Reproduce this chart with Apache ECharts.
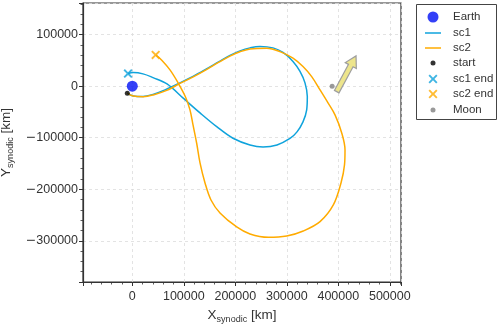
<!DOCTYPE html>
<html>
<head>
<meta charset="utf-8">
<script src="https://cdn.jsdelivr.net/npm/echarts@6/dist/echarts.min.js"></script>
<style>
html,body{margin:0;padding:0;background:#fff;}
#chart{width:498px;height:326px;}
</style>
</head>
<body>
<div id="chart"></div>
<script>
// ---- data (km, synodic frame) ----
const sc1X = [-9700, 1400, 20800, 40200, 63500, 92600, 117900, 143100, 168300, 189700, 209100, 228500, 248000, 273200, 292600, 312000, 325600, 335300, 339800, 338600, 331400, 319800, 306200, 281000, 253800, 228500, 195500, 164500, 131500, 99400, 67400, 40200, 20800, 1900, -8300];
const sc1Y = [-13600, -18800, -19800, -15900, -7200, 6400, 19000, 33000, 47600, 59800, 68500, 74400, 77300, 74400, 65600, 48200, 28700, 6400, -20200, -46000, -69300, -88700, -101400, -114000, -117900, -114000, -101000, -79000, -51800, -23700, 4500, 16700, 23900, 26400, 24500];
const sc2X = [-9700, 1900, 21400, 40800, 66800, 92600, 118400, 143100, 168300, 189700, 209100, 228500, 261000, 286800, 312000, 331400, 348300, 364500, 380000, 393600, 406600, 413000, 412000, 405200, 390300, 364500, 332000, 299800, 264100, 228500, 202700, 170300, 152800, 141200, 131500, 125000, 117900, 112000, 103300, 89300, 73200, 57700, 45400];
const sc2Y = [-13600, -19200, -20400, -16900, -8200, 5400, 18100, 31600, 46600, 58400, 67000, 72400, 73800, 67200, 54400, 38100, 18600, -7200, -32400, -55700, -90700, -123700, -152800, -187800, -230500, -262900, -281000, -290700, -293200, -286800, -273200, -246000, -220800, -187800, -148900, -110700, -75100, -46000, -20800, 5800, 31600, 50100, 60800];
const earth = [0, 0];
const startPt = [-9700, -13600];
const sc1End = [-8300, 24500];
const sc2End = [45400, 60800];
const moon = [388000, 0];
const arrowTail = [396900, -10500];
const arrowTip = [434400, 58800];
const xMin = -95700, xMax = 521700;
const yMin = -380000, yMax = 161500;
const legendNames = ['Earth', 'sc1', 'sc2', 'start', 'sc1 end', 'sc2 end', 'Moon'];

const C1 = '#0fa3dc', C2 = '#ffab00';
const zip = (a, b) => a.map((v, i) => [v, b[i]]);
const XPATH = 'path://M1.5,0L5,3.5L8.5,0L10,1.5L6.5,5L10,8.5L8.5,10L5,6.5L1.5,10L0,8.5L3.5,5L0,1.5Z';
const FONT = '"Liberation Sans", Arial, sans-serif';
const TXT = '#333';

const chart = echarts.init(document.getElementById('chart'), null, {renderer: 'canvas'});

function fmt(v) {
  const s = String(Math.round(Math.abs(v)));
  return v < 0 ? '{m|\u2212}{d|' + s + '}' : '{d|' + s + '}';
}

function axisCommon(margin) {
  return {
    type: 'value',
    axisLine: {show: true, onZero: false, lineStyle: {color: '#333', width: 1.2}},
    axisTick: {show: true, inside: false, length: 4, lineStyle: {color: '#333', width: 1}},
    minorTick: {show: true, splitNumber: 5, length: 2.5, lineStyle: {color: '#333', width: 0.8}},
    splitLine: {show: true, lineStyle: {color: '#dcdcdc', type: [3, 3], width: 0.8}},
    minorSplitLine: {show: false},
    axisLabel: {
      color: TXT, fontFamily: FONT, fontSize: 12.5, showMinLabel: false, showMaxLabel: false, margin: margin, formatter: fmt,
      rich: {
        m: {fontFamily: '"DejaVu Sans", sans-serif', fontSize: 12.5, color: TXT},
        d: {fontFamily: FONT, fontSize: 12.5, color: TXT}
      }
    }
  };
}

// legend rows
const rowY = [17, 33, 48, 63, 79, 94, 110];
const legendIcon = {
  'Earth': {w: 11, h: 11, icon: 'circle'},
  'sc1': {w: 16, h: 1.5, icon: 'rect'},
  'sc2': {w: 16, h: 1.5, icon: 'rect'},
  'start': {w: 5, h: 5, icon: 'circle'},
  'sc1 end': {w: 9, h: 9, icon: XPATH},
  'sc2 end': {w: 9, h: 9, icon: XPATH},
  'Moon': {w: 5, h: 5, icon: 'circle'}
};
const iconCx = 433, textX = 453;
const legends = legendNames.map((n, i) => {
  const ic = legendIcon[n];
  return {
    data: [{name: n, icon: ic.icon}],
    orient: 'vertical',
    left: iconCx - ic.w / 2,
    top: rowY[i] - 8,
    itemWidth: ic.w,
    itemHeight: ic.h,
    padding: 0,
    selectedMode: false,
    textStyle: {
      color: TXT, fontFamily: FONT, fontSize: 11.5,
      padding: [0, 0, 0, textX - (iconCx + ic.w / 2) - 5],
      lineHeight: 16, height: 16
    }
  };
});

const option = {
  animation: false,
  backgroundColor: '#fff',
  grid: {left: 83, right: 97, top: 3, bottom: 44, show: true, borderColor: '#333', borderWidth: 1.2, containLabel: false, outerBoundsMode: 'none'},
  graphic: [{
    type: 'rect', left: 416, top: 4, z: -1,
    shape: {width: 80, height: 115},
    style: {fill: '#fff', stroke: '#444', lineWidth: 1}
  }],
  legend: legends,
  xAxis: Object.assign(axisCommon(8), {
    min: xMin, max: xMax,
    name: '{a|X}{b|synodic}{a| [km]}', nameLocation: 'middle', nameGap: 25,
    nameTextStyle: {rich: {a: {fontFamily: FONT, fontSize: 13.5, color: TXT}, b: {fontFamily: FONT, fontSize: 9, color: TXT, padding: [8, 0, 0, 0]}}}
  }),
  yAxis: Object.assign(axisCommon(5), {
    min: yMin, max: yMax,
    name: '{a|Y}{b|synodic}{a| [km]}', nameLocation: 'middle', nameGap: 64,
    nameTextStyle: {rich: {a: {fontFamily: FONT, fontSize: 13.5, color: TXT}, b: {fontFamily: FONT, fontSize: 9, color: TXT, padding: [8, 0, 0, 0]}}}
  }),
  series: [
    {name: 'sc1', type: 'line', data: zip(sc1X, sc1Y), smooth: 0.35, showSymbol: false, symbol: 'none',
     lineStyle: {color: C1, width: 1.5}, itemStyle: {color: C1}, z: 2},
    {name: 'sc2', type: 'line', data: zip(sc2X, sc2Y), smooth: 0.35, showSymbol: false, symbol: 'none',
     lineStyle: {color: C2, width: 1.5}, itemStyle: {color: C2}, z: 3},
    {name: 'Earth', type: 'scatter', data: [earth], symbol: 'circle', symbolSize: 11, itemStyle: {color: '#0010f5'}, z: 4},
    {name: 'start', type: 'scatter', data: [startPt], symbol: 'circle', symbolSize: 5, itemStyle: {color: '#000'}, z: 5},
    {name: 'sc1 end', type: 'scatter', data: [sc1End], symbol: XPATH, symbolSize: 9, itemStyle: {color: C1}, z: 5},
    {name: 'sc2 end', type: 'scatter', data: [sc2End], symbol: XPATH, symbolSize: 9, itemStyle: {color: C2}, z: 5},
    {name: 'Moon', type: 'scatter', data: [moon], symbol: 'circle', symbolSize: 5, itemStyle: {color: '#808080'}, z: 5},
    {name: 'arrow', type: 'custom', data: [[arrowTail[0], arrowTail[1], arrowTip[0], arrowTip[1]]], z: 5,
     renderItem: function (params, api) {
       const p0 = api.coord([api.value(0), api.value(1)]);
       const p1 = api.coord([api.value(2), api.value(3)]);
       const dx = p1[0] - p0[0], dy = p1[1] - p0[1];
       const L = Math.sqrt(dx * dx + dy * dy);
       const ux = dx / L, uy = dy / L, nx = -uy, ny = ux;
       const hw = 2.6, HW = 6.3, HL = 11;
       const bx = p1[0] - ux * HL, by = p1[1] - uy * HL;
       const pts = [
         [p0[0] + nx * hw, p0[1] + ny * hw],
         [bx + nx * hw, by + ny * hw],
         [bx + nx * HW, by + ny * HW],
         [p1[0], p1[1]],
         [bx - nx * HW, by - ny * HW],
         [bx - nx * hw, by - ny * hw],
         [p0[0] - nx * hw, p0[1] - ny * hw]
       ];
       return {type: 'polygon', shape: {points: pts}, style: {fill: '#ede58c', stroke: '#9e9e9e', lineWidth: 1.2}};
     }}
  ]
};
chart.setOption(option);
</script>
</body>
</html>
